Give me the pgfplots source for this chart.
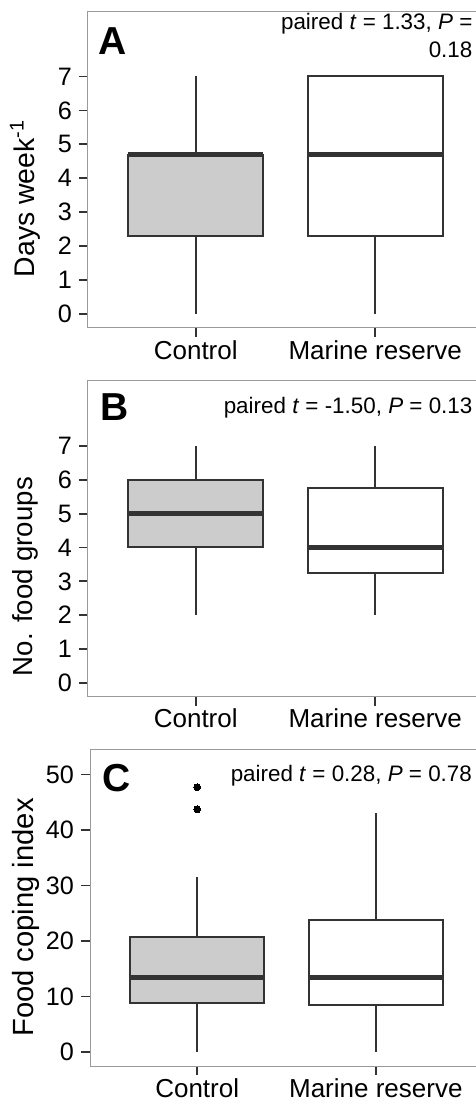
\documentclass[border=0pt]{standalone}
\usepackage{fontspec}
\setmainfont{Liberation Sans}
\usepackage{pgfplots}
\pgfplotsset{compat=1.18}
\usepgfplotslibrary{statistics}

\definecolor{frameGray}{HTML}{9A9A9A}
\definecolor{boxLine}{HTML}{333333}
\definecolor{ctrlFill}{HTML}{CCCCCC}

\pgfplotsset{
  panel/.style={
    scale only axis, anchor=south west,
    width=197.5pt, height=158pt,
    xmin=0.4, xmax=2.6,
    xtick={1,2}, xticklabels={Control, Marine reserve},
    axis line style={frameGray, line width=0.5pt},
    tick align=outside, tick pos=left,
    major tick length=4.5pt,
    tick style={boxLine, line width=0.9pt},
    tick label style={font=\fontsize{12.6}{14}\selectfont},
    xticklabel style={font=\fontsize{13}{15}\selectfont, inner sep=1.5pt},
    label style={font=\fontsize{14.2}{16}\selectfont},
    /pgf/number format/assume math mode=true,
    boxplot/draw direction=y,
    clip=false,
  },
  bx/.style={draw=boxLine, line width=1pt, solid,
    boxplot/every median/.style={line width=2.2pt}},
}
\tikzset{
  tag/.style={font=\fontsize{19.5}{22}\selectfont\bfseries, anchor=west, inner sep=0pt},
  note/.style={font=\fontsize{11.2}{13}\selectfont, anchor=east, inner sep=0pt},
}

\begin{document}
\begin{tikzpicture}
% panel A
\begin{axis}[panel, at={(44pt,387pt)},
  ymin=-0.41, ymax=8.9, ytick={0,...,7},
  ylabel={Days week\textsuperscript{-1}},
  ylabel style={at={(rel axis cs:0,0.41)}, yshift=31.5pt, anchor=center}]
\addplot[bx, fill=ctrlFill, boxplot prepared={lower whisker=0, lower quartile=2.3,
  median=4.7, upper quartile=4.7, upper whisker=7, draw position=1,
  box extend=0.75, whisker extend=0}] coordinates {};
\addplot[bx, fill=white, boxplot prepared={lower whisker=0, lower quartile=2.3,
  median=4.7, upper quartile=7, upper whisker=7, draw position=2,
  box extend=0.75, whisker extend=0}] coordinates {};
\node[tag] at (axis cs:0.459,8.03) {A};
\node[note] at (axis cs:2.543,8.55) {paired \textit{t} = 1.33, \textit{P} =};
\node[note] at (axis cs:2.543,7.79) {0.18};
\end{axis}
% panel B
\begin{axis}[panel, at={(44pt,202.65pt)},
  ymin=-0.41, ymax=8.93, ytick={0,...,7},
  ylabel={No. food groups},
  ylabel style={at={(rel axis cs:0,0.38)}, yshift=31.5pt, anchor=center,
    font=\fontsize{13.8}{16}\selectfont}]
\addplot[bx, fill=ctrlFill, boxplot prepared={lower whisker=2, lower quartile=4,
  median=5, upper quartile=6, upper whisker=7, draw position=1,
  box extend=0.75, whisker extend=0}] coordinates {};
\addplot[bx, fill=white, boxplot prepared={lower whisker=2, lower quartile=3.25,
  median=4, upper quartile=5.75, upper whisker=7, draw position=2,
  box extend=0.75, whisker extend=0}] coordinates {};
\node[tag] at (axis cs:0.47,8.14) {B};
\node[note] at (axis cs:2.543,8.14) {paired \textit{t} = -1.50, \textit{P} = 0.13};
\end{axis}
% panel C
\begin{axis}[panel, at={(45pt,18pt)}, width=196.5pt,
  ymin=-2.52, ymax=54.4, ytick={0,10,...,50},
  ylabel={Food coping index},
  ylabel style={at={(rel axis cs:0,0.47)}, yshift=32pt, anchor=center,
    font=\fontsize{14.6}{17}\selectfont}]
\addplot[bx, fill=ctrlFill, mark=*, mark size=1.7pt, mark options={fill=black, draw=black, line width=0pt},
  boxplot prepared={lower whisker=0, lower quartile=8.9,
  median=13.45, upper quartile=20.65, upper whisker=31.6, draw position=1,
  box extend=0.75, whisker extend=0}] table[row sep=\\, y index=0] {47.7\\ 43.7\\};
\addplot[bx, fill=white, boxplot prepared={lower whisker=0, lower quartile=8.4,
  median=13.45, upper quartile=23.7, upper whisker=43.1, draw position=2,
  box extend=0.75, whisker extend=0}] coordinates {};
\node[tag] at (axis cs:0.47,49.3) {C};
\node[note] at (axis cs:2.54,49.7) {paired \textit{t} = 0.28, \textit{P} = 0.78};
\end{axis}
\pgfresetboundingbox
\useasboundingbox (0,0) rectangle (238pt,551pt);
\end{tikzpicture}
\end{document}
